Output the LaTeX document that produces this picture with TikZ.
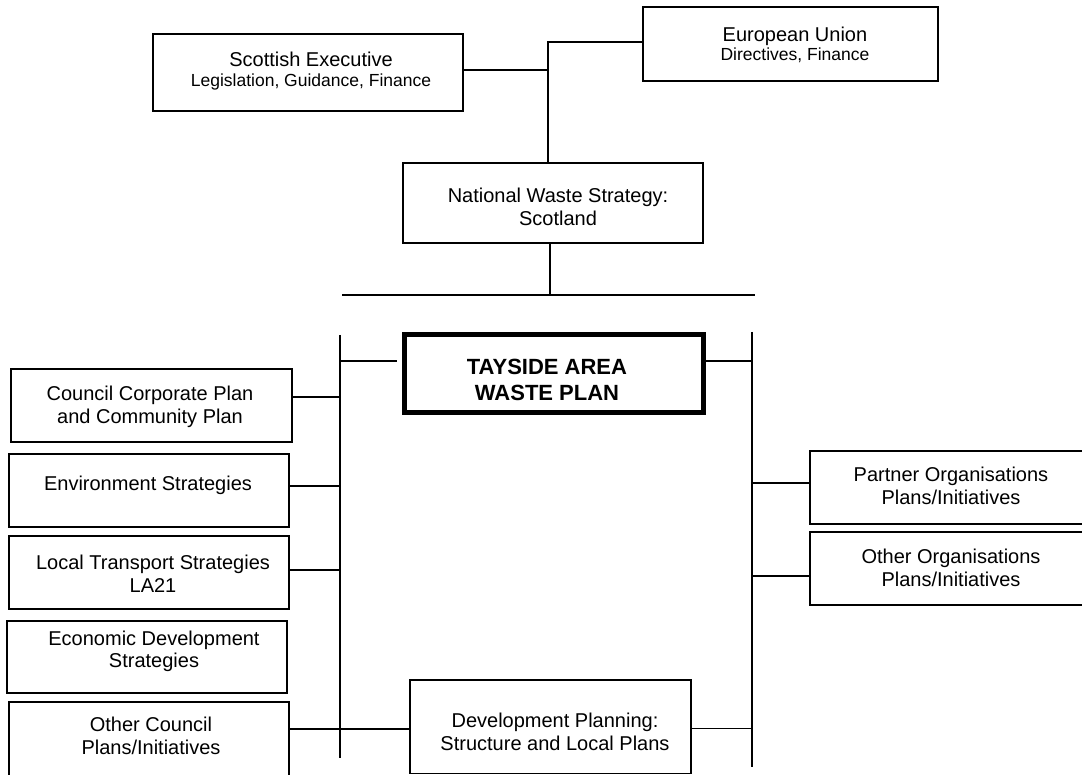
\documentclass[tikz,border=0pt]{standalone}
\usepackage{fontspec}
\setmainfont{Liberation Sans}
\begin{document}
\begin{tikzpicture}[x=1pt,y=-1pt,
  box/.style={draw=black, line width=1.3pt, inner sep=0pt, fill=none},
  thickbox/.style={draw=black, line width=5pt, inner sep=0pt},
  txt/.style={align=center, inner sep=0pt, font=\fontsize{20}{22.5}\selectfont},
  sub/.style={font=\fontsize{17.5}{19}\selectfont},
  conn/.style={draw=black, line width=1.3pt}]
\useasboundingbox (0,0) rectangle (1082,775);
% top boxes
\node[box, minimum width=310pt, minimum height=77pt] (sco) at (308,72.5) {};
\node[txt] (scot) at (311,71) {Scottish Executive\\[-3pt]{\fontsize{17.5}{19}\selectfont Legislation, Guidance, Finance}};
\node[box, minimum width=295pt, minimum height=74pt] (eu) at (790.5,44) {};
\node[txt] (eut) at (795,45) {European Union\\[-3pt]{\fontsize{17.5}{19}\selectfont Directives, Finance}};
\node[box, minimum width=300pt, minimum height=80pt] (nat) at (553,203) {};
\node[txt] (natt) at (558,207) {National Waste Strategy:\\Scotland};
% Tayside
\node[thickbox, minimum width=299pt, minimum height=78.5pt] (tay) at (553.7,373.3) {};
\node[txt, font=\fontsize{22}{26.5}\selectfont\bfseries] (tayt) at (547,380) {TAYSIDE AREA\\WASTE PLAN};
% left boxes
\node[box, minimum width=281pt, minimum height=73pt] (ccp) at (151.5,405.5) {};
\node[txt] (ccpt) at (150,407) {Council Corporate Plan\\and Community Plan};
\node[box, minimum width=280pt, minimum height=73pt] (env) at (149,490.5) {};
\node[txt] (envt) at (148,485) {Environment Strategies};
\node[box, minimum width=280pt, minimum height=73pt] (ltr) at (149,572.5) {};
\node[txt] (ltrt) at (153,574) {Local Transport Strategies\\LA21};
\node[box, minimum width=280pt, minimum height=72pt] (eco) at (147,657) {};
\node[txt] (ecot) at (154,651.5) {Economic Development\\Strategies};
\node[box, minimum width=280pt, minimum height=75pt] (ocp) at (149,739.5) {};
\node[txt] (ocpt) at (151,736) {Other Council\\Plans/Initiatives};
% development planning
\node[box, minimum width=281pt, minimum height=93.5pt] (dev) at (550.5,726.8) {};
\node[txt] (devt) at (555,732) {Development Planning:\\Structure and Local Plans};
% right boxes
\node[box, minimum width=282pt, minimum height=73pt] (par) at (951,487.5) {};
\node[txt] (part) at (951,486) {Partner Organisations\\Plans/Initiatives};
\node[box, minimum width=282pt, minimum height=73pt] (oor) at (951,568.5) {};
\node[txt] (oort) at (951,568) {Other Organisations\\Plans/Initiatives};
% junction coordinates
\coordinate (jt) at (548,42);
\coordinate (js) at (548,70);
\coordinate (jn) at (550,295);
\coordinate (hl) at (342,295);
\coordinate (hr) at (755,295);
\coordinate (lbt) at (340,335);
\coordinate (lbb) at (340,758);
\coordinate (rbt) at (752,332);
\coordinate (rbb) at (752,767);
\coordinate (lt) at (340,361);
\coordinate (ltend) at (397,361);
\coordinate (rt) at (752,361);
\coordinate (l1) at (340,397);
\coordinate (l2) at (340,486);
\coordinate (l3) at (340,570);
\coordinate (ld) at (340,729);
\coordinate (rd) at (752,728.5);
\coordinate (r1) at (752,483);
\coordinate (r2) at (752,576);
% connectors
\draw[conn] (js -| sco.east) -- (js);
\draw[conn] (jt |- nat.north) -- (jt) -- (jt -| eu.west);
\draw[conn] (jn |- nat.south) -- (jn);
\draw[conn] (hl) -- (hr);
\draw[conn] (lbt) -- (lbb);
\draw[conn] (rbt) -- (rbb);
\draw[conn] (lt) -- (ltend);
\draw[conn] (rt -| tay.east) -- (rt);
\draw[conn] (l1 -| ccp.east) -- (l1);
\draw[conn] (l2 -| env.east) -- (l2);
\draw[conn] (l3 -| ltr.east) -- (l3);
\draw[conn] (ld -| ocp.east) -- (ld -| dev.west);
\draw[conn] (rd -| dev.east) -- (rd);
\draw[conn] (r1) -- (r1 -| par.west);
\draw[conn] (r2) -- (r2 -| oor.west);
\end{tikzpicture}
\end{document}
